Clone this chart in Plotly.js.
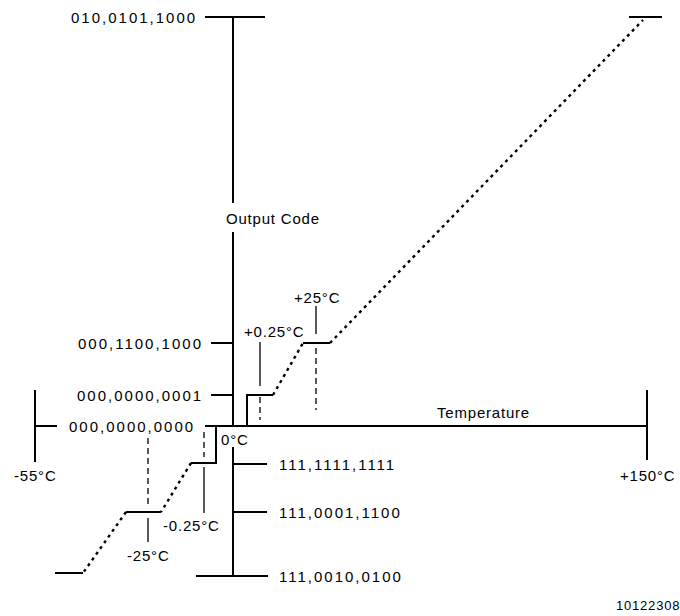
<!DOCTYPE html>
<html>
<head>
<meta charset="utf-8">
<script src="https://cdn.plot.ly/plotly-3.0.1.min.js"></script>
<style>
  body { margin: 0; background: #fff; }
  text.annotation-text { letter-spacing: 0.8px; }
  text.annotation-text[style*="Arimo"] { letter-spacing: 2px; }
</style>
</head>
<body>
<div id="chart" style="width:680px;height:616px;"></div>
<script>
// Schematic (not-to-scale) diagram units: origin = 0°C / code 000,0000,0000
// Axis lines (null separates segments)
const axisLineX = [0, 0, null, 0, 0, null, 0, 0, null, -28, 414, null, -198, -176, null, -198, -198, null, 414, 414];
const axisLineY = [409, 223, null, 194, 0, null, -21, -150, null, 0, 0, null, 0, 0, null, 36, -36, null, 36, -34];

// Output-code tick marks on the vertical axis
const codeTickX = [-28, 32, null, -22, 0, null, -22, 0, null, 0, 34, null, 0, 34, null, -37, 35];
const codeTickY = [409, 409, null, 83, 83, null, 31, 31, null, -38, -38, null, -86, -86, null, -150, -150];

// Transfer-function steps (solid)
const stepX = [14, 14, 40, null, 70, 97, null, 396, 429, null, -17, -17, -42, null, -107, -72, null, -178, -150];
const stepY = [0, 31, 31, null, 83, 83, null, 409, 409, null, 0, -37, -37, null, -86, -86, null, -147, -147];

// Omitted steps (dotted ramps)
const rampX = [40, 70, null, 97, 410, null, -42, -72, null, -107, -150];
const rampY = [31, 83, null, 83, 406, null, -37, -86, null, -86, -147];

// Temperature marker leaders (solid, thin)
const markX = [27, 27, null, 83, 83, null, -29, -29, null, -85, -85];
const markY = [84, 40, null, 120, 92, null, -41, -87, null, -92, -116];

// Temperature guides to the axis (dashed, thin)
const guideX = [27, 27, null, 83, 83, null, -29, -29, null, -85, -85];
const guideY = [29, 6, null, 78, 16, null, -6, -31, null, -12, -81];

// Output-code labels
const codeLabels = ['010,0101,1000', '000,1100,1000', '000,0000,0001', '000,0000,0000', '111,1111,1111', '111,0001,1100', '111,0010,0100'];
const codeLabelX = [-34, -28, -28, -36, 44, 44, 44];
const codeLabelY = [409, 83, 31, 0, -38, -86, -150];
const codeLabelAnchor = ['right', 'right', 'right', 'right', 'left', 'left', 'left'];

// Temperature labels
const tempLabels = ['-55°C', '+150°C', '0°C', '+0.25°C', '+25°C', '-0.25°C', '-25°C'];
const tempLabelX = [-198, 414, 1.5, 41, 84, -42, -85];
const tempLabelY = [-49, -49, -13, 95, 129, -99, -129];

// Axis titles and figure number
const titleLabels = ['Output Code', 'Temperature'];
const titleX = [40, 250];
const titleY = [208, 14];
const figureNumber = '10122308';

const black = '#000000';
const font = { family: 'Liberation Sans, sans-serif', size: 15, color: black };
const codeFont = { family: 'Liberation Sans, Arimo', size: 15, color: black };

const traces = [
  { x: axisLineX, y: axisLineY, mode: 'lines', line: { color: black, width: 2 }, hoverinfo: 'skip' },
  { x: codeTickX, y: codeTickY, mode: 'lines', line: { color: black, width: 2 }, hoverinfo: 'skip' },
  { x: stepX, y: stepY, mode: 'lines', line: { color: black, width: 2 }, hoverinfo: 'skip' },
  { x: rampX, y: rampY, mode: 'lines', line: { color: black, width: 2.4, dash: '3px,4px' }, hoverinfo: 'skip' },
  { x: markX, y: markY, mode: 'lines', line: { color: black, width: 1.3 }, hoverinfo: 'skip' },
  { x: guideX, y: guideY, mode: 'lines', line: { color: black, width: 1.3, dash: '6px,4px' }, hoverinfo: 'skip' }
];

const annotations = [];
codeLabels.forEach((t, i) => annotations.push({
  x: codeLabelX[i], y: codeLabelY[i], text: t, showarrow: false,
  xanchor: codeLabelAnchor[i], yanchor: 'middle', font: codeFont
}));
tempLabels.forEach((t, i) => annotations.push({
  x: tempLabelX[i], y: tempLabelY[i], text: t, showarrow: false,
  xanchor: 'center', yanchor: 'middle', font: font
}));
titleLabels.forEach((t, i) => annotations.push({
  x: titleX[i], y: titleY[i], text: t, showarrow: false,
  xanchor: 'center', yanchor: 'middle', font: font
}));
annotations.push({
  x: 415, y: -179, text: figureNumber, showarrow: false,
  xanchor: 'center', yanchor: 'middle',
  font: { family: 'Liberation Sans, sans-serif', size: 13, color: black }
});

const layout = {
  width: 680, height: 616,
  margin: { l: 0, r: 0, t: 0, b: 0 },
  paper_bgcolor: '#ffffff', plot_bgcolor: '#ffffff',
  showlegend: false,
  xaxis: { range: [-233, 447], visible: false, fixedrange: true },
  yaxis: { range: [-190, 426], visible: false, fixedrange: true },
  annotations: annotations
};

Plotly.newPlot('chart', traces, layout, { displayModeBar: false, staticPlot: true });
</script>
</body>
</html>
